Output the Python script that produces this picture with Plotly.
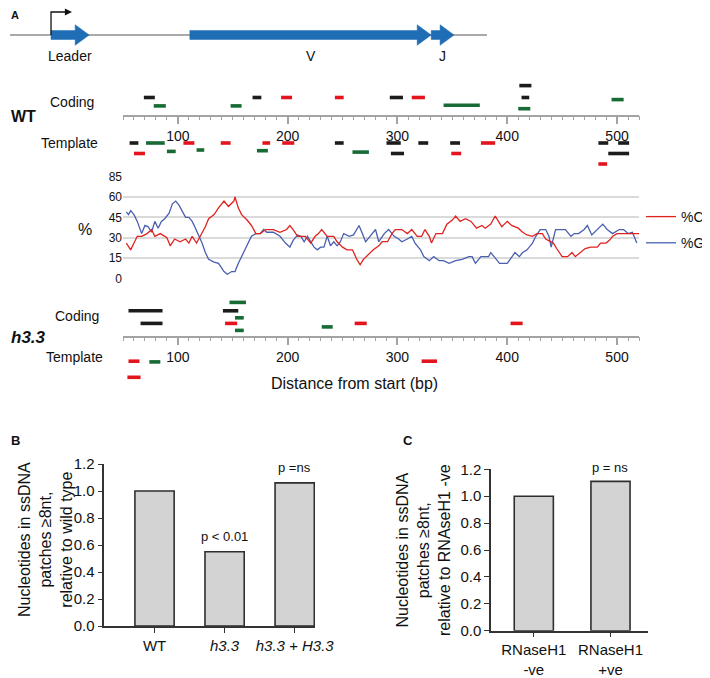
import plotly.graph_objects as go

W, H = 710, 678
FONT = "Arial"
PAGE_PAD = 8  # the html body margin the page puts around the figure

# ---- gene map (map units: locus line runs 0..100) ----
LOCUS = [0, 100]
GENE_NAMES = ["Leader", "V", "J"]
GENE_START = [8.6, 37.7, 88.3]
GENE_END = [16.6, 88.3, 93.1]
PROMOTER_AT = 8.6

# ---- ssDNA patches (bp), kind = k/r/g, row = stacking level off the axis ----
WT_COD_START = [69, 78, 148, 168, 194, 243, 293, 313, 342, 411, 413, 410, 495]
WT_COD_END = [79, 89, 158, 176, 204, 251, 305, 325, 375, 422, 420, 421, 506]
WT_COD_KIND = ["k", "g", "g", "k", "r", "r", "k", "r", "g", "k", "k", "g", "g"]
WT_COD_ROW = [2.6, 1.4, 1.4, 2.6, 2.6, 2.6, 2.6, 2.6, 1.5, 4.3, 2.6, 1.0, 2.3]

WT_TPL_START = [56, 60, 71, 90, 105, 117, 139, 177, 172, 195, 243,
                259, 290, 294, 319, 348, 349, 376, 483, 501, 492, 483]
WT_TPL_END = [64, 70, 88, 98, 115, 124, 148, 184, 182, 206, 251,
              274, 303, 306, 328, 357, 358, 389, 492, 511, 511, 491]
WT_TPL_KIND = ["k", "r", "g", "g", "r", "g", "r", "r", "g", "r", "k",
               "g", "k", "k", "k", "k", "r", "r", "k", "k", "k", "r"]
WT_TPL_ROW = [-3.9, -5.4, -3.9, -5.1, -3.9, -4.9, -3.9, -3.9, -5.0, -3.9, -3.9,
              -5.2, -3.9, -5.4, -3.9, -3.9, -5.4, -3.9, -3.9, -3.9, -5.4, -6.9]

H33_COD_START = [55, 66, 147, 141, 152, 143, 152, 231, 261, 403]
H33_COD_END = [86, 86, 162, 155, 160, 154, 160, 241, 272, 414]
H33_COD_KIND = ["k", "k", "g", "k", "g", "r", "g", "g", "r", "r"]
H33_COD_ROW = [3.7, 1.9, 4.9, 3.7, 2.7, 1.9, 0.9, 1.4, 1.9, 1.9]

H33_TPL_START = [55, 74, 54, 322]
H33_TPL_END = [65, 84, 66, 336]
H33_TPL_KIND = ["r", "g", "r", "r"]
H33_TPL_ROW = [-3.5, -3.6, -5.8, -3.5]

# ---- %C / %G along the sequence ----
G_BP = [53, 55, 57, 60, 63, 66, 67, 70, 73, 76,
        79, 82, 85, 88, 92, 95, 98, 101, 104, 107,
        110, 113, 116, 119, 122, 125, 128, 133, 137, 142,
        145, 149, 152, 155, 158, 161, 164, 167, 171, 175,
        178, 181, 187, 193, 198, 202, 205, 209, 212, 215,
        218, 221, 224, 227, 230, 233, 236, 239, 242, 245,
        248, 251, 256, 260, 265, 268, 271, 275, 280, 283,
        288, 292, 297, 301, 304, 309, 313, 316, 321, 324,
        329, 333, 338, 342, 347, 353, 359, 365, 368, 371,
        376, 383, 385, 388, 393, 400, 404, 407, 411, 414,
        418, 423, 426, 430, 435, 438, 440, 444, 453, 458,
        461, 465, 470, 473, 477, 482, 487, 491, 496, 502,
        506, 510, 514, 518]
G_PCT = [49, 47, 50, 47, 42, 36, 33, 39, 38, 34,
         42, 37, 42, 44, 48, 55, 57, 54, 50, 45,
         45, 42, 37, 32, 26, 19, 14, 12, 11, 5,
         3, 5, 5, 11, 16, 21, 26, 31, 33, 33,
         36, 34, 34, 31, 26, 23, 28, 32, 31, 27,
         31, 27, 23, 21, 23, 23, 31, 24, 27, 24,
         27, 33, 31, 32, 39, 33, 27, 31, 36, 27,
         33, 36, 31, 29, 27, 29, 31, 26, 21, 16,
         13, 16, 13, 13, 11, 13, 14, 16, 16, 11,
         16, 16, 19, 16, 11, 11, 16, 19, 16, 19,
         21, 26, 31, 36, 36, 31, 23, 36, 36, 31,
         33, 33, 36, 39, 32, 36, 40, 36, 33, 36,
         36, 33, 34, 26]

C_BP = [53, 57, 60, 63, 67, 72, 76, 79, 84, 90,
        93, 97, 102, 107, 110, 113, 117, 122, 125, 128,
        133, 137, 142, 146, 151, 152, 155, 158, 163, 167,
        171, 175, 180, 187, 193, 199, 202, 205, 209, 212,
        216, 221, 225, 228, 231, 236, 242, 245, 250, 254,
        259, 263, 266, 269, 274, 278, 283, 286, 291, 295,
        298, 304, 309, 313, 318, 322, 325, 329, 331, 335,
        341, 345, 350, 353, 357, 362, 367, 372, 377, 380,
        385, 389, 392, 395, 400, 404, 410, 414, 418, 423,
        427, 432, 435, 439, 442, 445, 450, 455, 459, 462,
        467, 471, 476, 482, 485, 490, 493, 496, 500, 505,
        511, 515, 520]
C_PCT = [26, 21, 26, 31, 31, 33, 36, 31, 33, 30,
         24, 29, 27, 29, 26, 31, 26, 33, 38, 44,
         47, 52, 57, 53, 57, 60, 52, 47, 43, 39,
         33, 33, 36, 36, 34, 36, 39, 36, 31, 31,
         31, 26, 31, 33, 36, 31, 31, 27, 23, 21,
         21, 14, 10, 14, 18, 21, 24, 27, 27, 33,
         36, 36, 33, 36, 31, 31, 36, 31, 26, 33,
         33, 40, 43, 46, 42, 44, 42, 37, 39, 37,
         40, 46, 42, 38, 42, 39, 37, 34, 32, 31,
         33, 33, 29, 27, 26, 22, 16, 16, 19, 16,
         19, 22, 23, 23, 26, 26, 28, 31, 33, 33,
         33, 33, 33]
PCT_TICKS = [0, 15, 30, 45, 60, 75]
PCT_TICKTEXT = ["0", "15", "30", "45", "60", "85"]

# ---- panels B and C ----
B_GROUPS = ["WT", "h3.3", "h3.3 + H3.3"]
B_LABELS = ["WT", "<i>h3.3</i>", "<i>h3.3 + H3.3</i>"]
B_VALUES = [1.0, 0.55, 1.06]
B_PTEXT = ["", "p < 0.01", "p =ns"]

C_GROUPS = ["RNaseH1 -ve", "RNaseH1 +ve"]
C_LABELS = ["RNaseH1<br>-ve", "RNaseH1<br>+ve"]
C_VALUES = [1.0, 1.11]
C_PTEXT = ["", "p = ns"]

KIND_COLOR = {"k": "#1c1c1c", "r": "#e3141b", "g": "#186b35"}
GENE_BLUE = "#1f6db5"
AX_GREY = "#a3a3a3"


# positions below are given in page pixels and converted to paper fractions
def px_x(p):
    return (p - PAGE_PAD) / W


def px_y(p):
    return 1 - (p - PAGE_PAD) / H


fig = go.Figure()

# ── gene map ─────────────────────────────────────────────────────────────
HEAD, BODY, HEADW = 2.935, 0.18, 0.41
fig.add_trace(go.Scatter(x=LOCUS, y=[0, 0], mode="lines",
                         line=dict(color="#555555", width=1),
                         xaxis="x4", yaxis="y4", hoverinfo="skip", showlegend=False))
for s, e in zip(GENE_START, GENE_END):
    hs = max(s, e - HEAD)
    fig.add_trace(go.Scatter(
        x=[s, hs, hs, e, hs, hs, s, s],
        y=[-BODY, -BODY, -HEADW, 0, HEADW, BODY, BODY, -BODY],
        mode="lines", fill="toself", fillcolor=GENE_BLUE,
        line=dict(color=GENE_BLUE, width=0.5),
        xaxis="x4", yaxis="y4", hoverinfo="skip", showlegend=False))
fig.add_trace(go.Scatter(x=[PROMOTER_AT, PROMOTER_AT, PROMOTER_AT + 3.6],
                         y=[0, 0.92, 0.92], mode="lines",
                         line=dict(color="#111111", width=1.3),
                         xaxis="x4", yaxis="y4", hoverinfo="skip", showlegend=False))
fig.add_annotation(x=PROMOTER_AT + 4.4, y=0.92, ax=PROMOTER_AT + 3.0, ay=0.92,
                   xref="x4", yref="y4", axref="x4", ayref="y4", text="",
                   showarrow=True, arrowhead=2, arrowsize=1.1, arrowwidth=1.3,
                   arrowcolor="#111111")
for name, s, e in zip(GENE_NAMES, GENE_START, GENE_END):
    fig.add_annotation(x=(s + e) / 2, y=-0.42, xref="x4", yref="y4", text=name,
                       showarrow=False, yanchor="top",
                       font=dict(family=FONT, size=14, color="#111111"))


# ── patch tracks ─────────────────────────────────────────────────────────
def add_patches(starts, ends, kinds, rows, xa, ya):
    for kind, col in KIND_COLOR.items():
        xs, ys = [], []
        for s, e, k, r in zip(starts, ends, kinds, rows):
            if k == kind:
                xs += [s, e, None]
                ys += [r, r, None]
        if xs:
            fig.add_trace(go.Scatter(x=xs, y=ys, mode="lines",
                                     line=dict(color=col, width=3.6),
                                     xaxis=xa, yaxis=ya, hoverinfo="skip",
                                     showlegend=False))


add_patches(WT_COD_START, WT_COD_END, WT_COD_KIND, WT_COD_ROW, "x", "y")
add_patches(WT_TPL_START, WT_TPL_END, WT_TPL_KIND, WT_TPL_ROW, "x", "y")
add_patches(H33_COD_START, H33_COD_END, H33_COD_KIND, H33_COD_ROW, "x3", "y3")
add_patches(H33_TPL_START, H33_TPL_END, H33_TPL_KIND, H33_TPL_ROW, "x3", "y3")

# ── %C / %G ──────────────────────────────────────────────────────────────
fig.add_trace(go.Scatter(x=G_BP, y=G_PCT, mode="lines", name="%G",
                         line=dict(color="#4a5fb0", width=1.3), legendrank=2,
                         legendgroup="g", xaxis="x2", yaxis="y2"))
fig.add_trace(go.Scatter(x=C_BP, y=C_PCT, mode="lines", name="%C",
                         line=dict(color="#e0231f", width=1.3), legendrank=1,
                         legendgroup="c", xaxis="x2", yaxis="y2"))

# ── bars ─────────────────────────────────────────────────────────────────
BAR_FILL = "#d3d3d3"
BAR_EDGE = "#2e2e2e"
fig.add_trace(go.Bar(x=B_GROUPS, y=B_VALUES, width=0.56, xaxis="x5", yaxis="y5",
                     marker=dict(color=BAR_FILL, line=dict(color=BAR_EDGE, width=1.6)),
                     showlegend=False))
fig.add_trace(go.Bar(x=C_GROUPS, y=C_VALUES, width=0.51, xaxis="x6", yaxis="y6",
                     marker=dict(color=BAR_FILL, line=dict(color=BAR_EDGE, width=1.6)),
                     showlegend=False))
for g, v, t in zip(B_GROUPS, B_VALUES, B_PTEXT):
    if t:
        fig.add_annotation(x=g, y=v, xref="x5", yref="y5", text=t, showarrow=False,
                           yanchor="bottom", yshift=6,
                           font=dict(family=FONT, size=13, color="#111111"))
for g, v, t in zip(C_GROUPS, C_VALUES, C_PTEXT):
    if t:
        fig.add_annotation(x=g, y=v, xref="x6", yref="y6", text=t, showarrow=False,
                           yanchor="bottom", yshift=4,
                           font=dict(family=FONT, size=13, color="#111111"))

# ── axes ─────────────────────────────────────────────────────────────────
BP_RANGE = [50, 520]
BP_DOMAIN = [px_x(123), px_x(639)]
MAJOR = list(range(100, 501, 50))
MAJOR_TXT = [str(v) if v % 100 == 0 else "" for v in MAJOR]
MINOR = list(range(50, 521, 10))


def bp_axis(pos_px):
    return dict(domain=BP_DOMAIN, range=BP_RANGE, anchor="free", position=px_y(pos_px),
                automargin=False,
                showline=True, linecolor=AX_GREY, linewidth=1.5,
                ticks="outside", ticklen=8, tickwidth=1.5, tickcolor=AX_GREY,
                tickvals=MAJOR, ticktext=MAJOR_TXT,
                minor=dict(ticks="outside", ticklen=4, tickwidth=1.3,
                           tickcolor=AX_GREY, tickvals=MINOR),
                showgrid=False, zeroline=False,
                tickfont=dict(family=FONT, size=14, color="#111111"))


ROW_PX = 7.0
WT_AX, H33_AX = 115.7, 336.7
WT_TOP, WT_BOT = 75, 175
H33_TOP, H33_BOT = 290, 385
MAP_LEFT, MAP_PX = 10, 477  # page px where the locus line starts, its length
hidden = dict(visible=False, fixedrange=True, automargin=False)
bar_ax = dict(showline=True, linecolor="#333333", linewidth=1.5, automargin=False,
              ticks="outside", ticklen=5, tickcolor="#333333", tickwidth=1.3,
              showgrid=False, zeroline=False,
              tickfont=dict(family=FONT, size=15, color="#111111"))

fig.update_layout(
    width=W, height=H, autosize=False, margin=dict(l=0, r=0, t=0, b=0, pad=0),
    paper_bgcolor="white", plot_bgcolor="white",
    font=dict(family=FONT, color="#111111"),
    xaxis=bp_axis(WT_AX),
    yaxis=dict(domain=[px_y(WT_BOT), px_y(WT_TOP)],
               range=[-(WT_BOT - WT_AX) / ROW_PX, (WT_AX - WT_TOP) / ROW_PX], **hidden),
    xaxis2=dict(domain=BP_DOMAIN, range=BP_RANGE, anchor="y2", **hidden),
    yaxis2=dict(domain=[px_y(278.3), px_y(176.7)], range=[0, 75], anchor="x2",
                automargin=False,
                tickvals=PCT_TICKS, ticktext=PCT_TICKTEXT, showgrid=True,
                gridcolor="#dadada", gridwidth=1.6, showline=False, zeroline=False,
                ticks="", tickfont=dict(family=FONT, size=12, color="#111111")),
    xaxis3=bp_axis(H33_AX),
    yaxis3=dict(domain=[px_y(H33_BOT), px_y(H33_TOP)],
                range=[-(H33_BOT - H33_AX) / ROW_PX, (H33_AX - H33_TOP) / ROW_PX], **hidden),
    xaxis4=dict(domain=[0, 1],
                range=[-(MAP_LEFT - PAGE_PAD) * 100 / MAP_PX,
                       (W - MAP_LEFT + PAGE_PAD) * 100 / MAP_PX],
                anchor="y4", **hidden),
    yaxis4=dict(domain=[px_y(60), px_y(10)], range=[-1, 1], anchor="x4", **hidden),
    xaxis5=dict(domain=[px_x(104.3), px_x(315)], range=[-0.717, 2.29], anchor="y5",
                type="category", tickvals=B_GROUPS, ticktext=B_LABELS, **bar_ax),
    yaxis5=dict(domain=[px_y(626), px_y(464)], range=[0, 1.2], anchor="x5",
                dtick=0.2, tickformat=".1f", **bar_ax),
    xaxis6=dict(domain=[px_x(491), px_x(648)], range=[-0.558, 1.489], anchor="y6",
                type="category", tickvals=C_GROUPS, ticktext=C_LABELS, **bar_ax),
    yaxis6=dict(domain=[px_y(630.7), px_y(469.3)], range=[0, 1.2], anchor="x6",
                dtick=0.2, tickformat=".1f", **bar_ax),
    legend=dict(x=px_x(641), y=px_y(201), xanchor="left", yanchor="top",
                traceorder="grouped", tracegroupgap=5, bgcolor="rgba(0,0,0,0)",
                font=dict(family=FONT, size=14, color="#111111")),
    showlegend=True,
)

# ── text labels ──────────────────────────────────────────────────────────
def label(text, xp, yp, size, anchor="center", **kw):
    fig.add_annotation(x=px_x(xp), y=px_y(yp), xref="paper", yref="paper", text=text,
                       showarrow=False, xanchor=anchor, yanchor="middle",
                       font=dict(family=FONT, size=size, color="#111111"), **kw)


label("<b>A</b>", 9, 15, 11, "left")
label("<b>B</b>", 9, 440, 13, "left")
label("<b>C</b>", 401, 440, 13, "left")
label("<b>WT</b>", 9, 116, 16, "left")
label("<b><i>h3.3</i></b>", 9, 337, 17, "left")
label("Coding", 72, 102, 14)
label("Template", 69, 143, 14)
label("Coding", 77, 316, 14)
label("Template", 74, 357, 14)
label("%", 85, 229, 16)
label("Distance from start (bp)", 354, 383, 16)
label("Nucleotides in ssDNA<br>patches ≥8nt,<br>relative to wild type",
      45, 540, 16, textangle=-90)
label("Nucleotides in ssDNA<br>patches ≥8nt,<br>relative to RNAseH1 -ve",
      423, 550, 16, textangle=-90)

fig.write_html("out.html")
